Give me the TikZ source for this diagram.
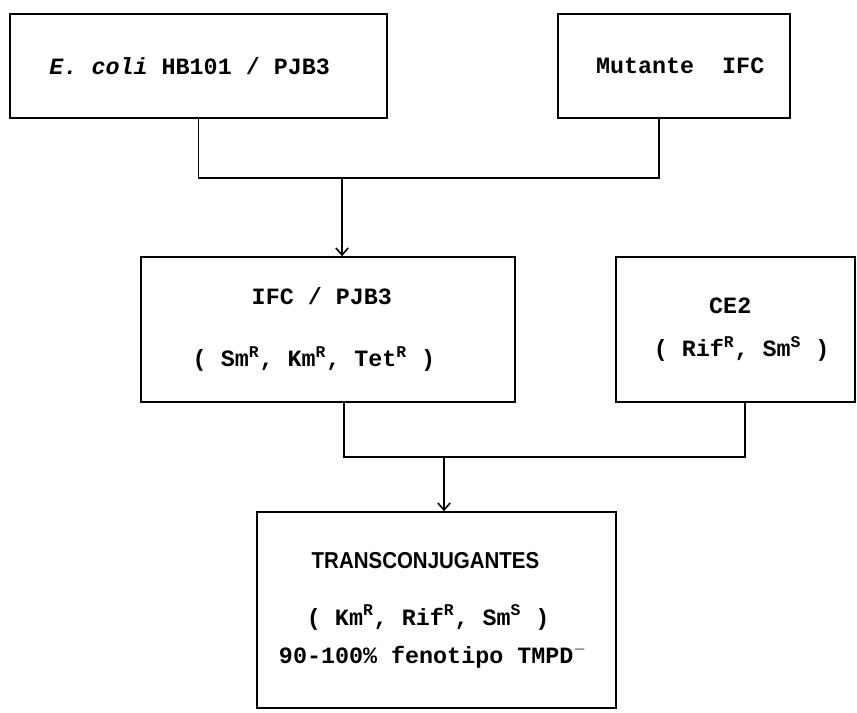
\documentclass[tikz,border=0pt]{standalone}
\usepackage{fontspec}
\setmonofont{Liberation Mono}
\newfontfamily\condsans[FakeStretch=0.89]{Liberation Sans}
\usepackage{tikz}
\usetikzlibrary{arrows.meta}
\tikzset{>={Straight Barb[length=4pt,width=7pt]}}
\tikzset{cepa/.style={draw, line width=0.9pt, rectangle, align=center, inner sep=0pt,
    font=\ttfamily\bfseries\fontsize{13.3}{16}\selectfont}}
\newcommand{\res}[1]{\textsuperscript{#1}}

\begin{document}
\begin{tikzpicture}[x=0.02cm, y=-0.02cm, line width=0.9pt]
            \useasboundingbox (0,0) rectangle (857,712);

            \node[cepa, minimum width=7.54cm, minimum height=2.08cm] (ecoli) at (198.5,66)
                {\textit{E. coli} HB101 / PJB3\hspace*{10pt}};
            \node[cepa, minimum width=4.64cm, minimum height=2.08cm] (mutante) at (674,66)
                {\hspace*{7pt}Mutante\ \ IFC};

            \node[cepa, minimum width=7.48cm, minimum height=2.9cm] (ifc) at (328,329.5)
                {IFC / PJB3\hspace*{7pt}\\[19pt] ( Sm\res{R}, Km\res{R}, Tet\res{R} )\hspace*{16pt}};
            \node[cepa, minimum width=4.78cm, minimum height=2.9cm] (ce2) at (735.5,329.5)
                {CE2\hspace*{6pt}\\[8.5pt] \hspace*{7pt}( Rif\res{R}, Sm\res{S} )};

            \node[cepa, minimum width=7.18cm, minimum height=3.92cm] (trans) at (436.5,610)
                {{\condsans\fontsize{13.1}{16}\selectfont TRANSCONJUGANTES}\hspace*{12.5pt}\\[16.4pt]%
                 \hspace*{-9.5pt}( Km\res{R}, Rif\res{R}, Sm\res{S} )\\[5.6pt]%
                 90-100\% fenotipo TMPD\res{$-$}\hspace*{4pt}};

            \coordinate (cruce1) at (342,178);
            \coordinate (cruce2) at (444,457);

            \draw (ecoli.south) |- (cruce1) -| ([xshift=-0.3cm]mutante.south);
            \draw[->] (cruce1) -- (ifc.north -| cruce1);
            \draw ([xshift=0.32cm]ifc.south) |- (cruce2) -| ([xshift=0.19cm]ce2.south);
            \draw[->] (cruce2) -- (trans.north -| cruce2);
    \end{tikzpicture}
\end{document}
